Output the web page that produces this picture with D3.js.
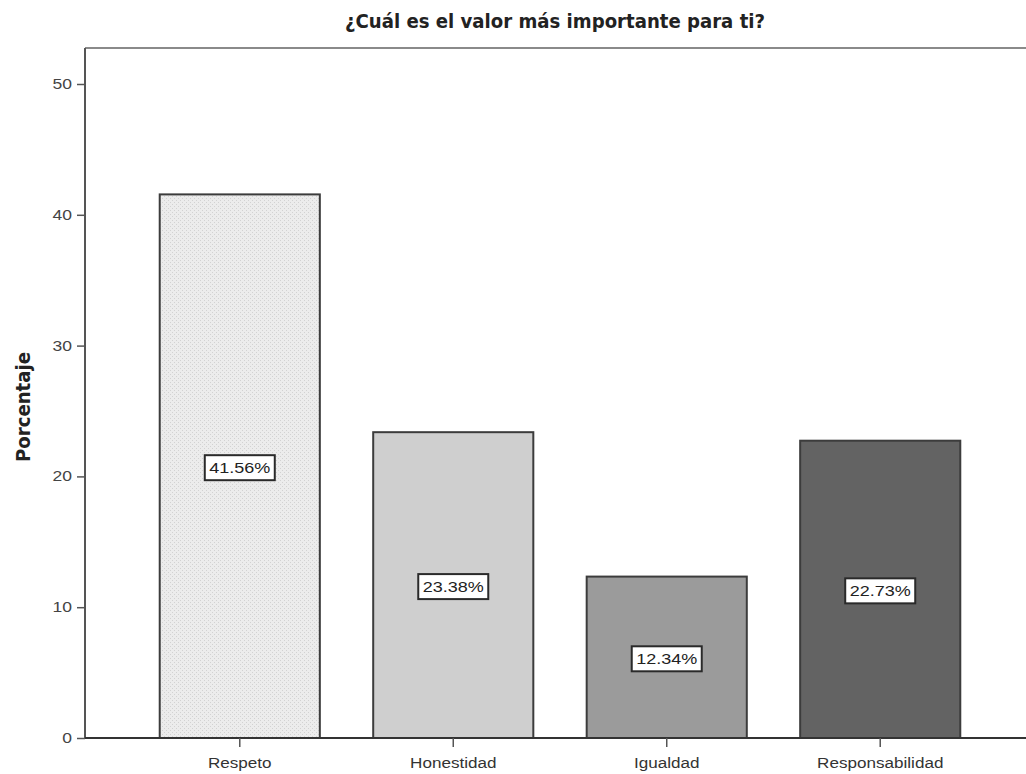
<!DOCTYPE html>
<html>
<head>
<meta charset="utf-8">
<script src="https://cdn.jsdelivr.net/npm/d3@7"></script>
<style>
  body { margin: 0; background: #fff; }
  svg { display: block; }
</style>
</head>
<body>
<svg width="1026" height="774"></svg>
<script>
// datos del gráfico
const categorias = ["Respeto", "Honestidad", "Igualdad", "Responsabilidad"];
const porcentajes = [41.56, 23.38, 12.34, 22.73];
const etiquetas = ["41.56%", "23.38%", "12.34%", "22.73%"];
const yTicks = [0, 10, 20, 30, 40, 50];
const rellenos = ["url(#puntos)", "#cfcfcf", "#9b9b9b", "#636363"];

const svg = d3.select("svg");
const margenIzq = 85, base = 738, techo = 48;

// ensancha un texto (la fuente original es más ancha que Arial)
function ensanchar(sel, factor) {
    sel.each(function () {
        const w = this.getComputedTextLength();
        d3.select(this).attr("textLength", w * factor).attr("lengthAdjust", "spacingAndGlyphs");
    });
}

// patrón punteado de la primera barra
const pat = svg.append("defs").append("pattern")
    .attr("id", "puntos").attr("width", 4).attr("height", 4)
    .attr("patternUnits", "userSpaceOnUse");
pat.append("rect").attr("width", 4).attr("height", 4).attr("fill", "#ececec");
pat.append("rect").attr("x", 0).attr("y", 0).attr("width", 1).attr("height", 1).attr("fill", "#d2d2d2");
pat.append("rect").attr("x", 2).attr("y", 2).attr("width", 1).attr("height", 1).attr("fill", "#d2d2d2");

const x = d3.scaleBand().domain(categorias).range([margenIzq, 1035])
    .paddingInner(0.25).paddingOuter(0.35);
const y = d3.scaleLinear().domain([0, 50]).range([base, 84]);

// marco superior
svg.append("line").attr("x1", margenIzq).attr("x2", 1026).attr("y1", techo).attr("y2", techo)
    .attr("stroke", "#8a8a8a").attr("stroke-width", 2);

// título
svg.append("text").attr("x", 555).attr("y", 28).attr("text-anchor", "middle")
    .attr("textLength", 420).attr("lengthAdjust", "spacingAndGlyphs")
    .style("font-family", "'DejaVu Sans Condensed', 'Liberation Sans Narrow', sans-serif")
    .style("font-size", "20px").style("font-weight", "bold").attr("fill", "#222")
    .text("¿Cuál es el valor más importante para ti?");

// barras
svg.selectAll(".bar").data(porcentajes).enter().append("rect")
    .attr("class", "bar")
    .attr("x", (d, i) => x(categorias[i]))
    .attr("y", d => y(d))
    .attr("width", x.bandwidth())
    .attr("height", d => base - y(d))
    .attr("fill", (d, i) => rellenos[i])
    .attr("stroke", "#3c3c3c").attr("stroke-width", 2);

// etiquetas con caja
const lab = svg.selectAll(".lab").data(porcentajes).enter().append("g")
    .attr("transform", (d, i) => `translate(${x(categorias[i]) + x.bandwidth() / 2},${y(d / 2) + 1})`);
lab.append("rect").attr("x", -35).attr("y", -12).attr("width", 70).attr("height", 25)
    .attr("fill", "#fff").attr("stroke", "#2a2a2a").attr("stroke-width", 2);
lab.append("text").attr("text-anchor", "middle").attr("dy", "0.36em")
    .style("font-family", "'Liberation Sans', Arial, sans-serif").style("font-size", "15px")
    .attr("fill", "#222").text((d, i) => etiquetas[i])
    .call(ensanchar, 1.2);

// eje y
const ay = svg.append("g").attr("transform", `translate(${margenIzq},0)`)
    .call(d3.axisLeft(y).tickValues(yTicks).tickSize(8).tickPadding(5));
ay.select(".domain").attr("stroke", "#555").attr("stroke-width", 2)
    .attr("d", `M0,${base}V${techo}`);
ay.selectAll(".tick line").attr("stroke", "#555").attr("stroke-width", 1.5);
ay.selectAll("text").style("font-family", "'Liberation Sans', Arial, sans-serif")
    .style("font-size", "14px").attr("fill", "#444")
    .call(ensanchar, 1.25);

// eje x
const ax = svg.append("g").attr("transform", `translate(0,${base})`)
    .call(d3.axisBottom(x).tickSize(9).tickPadding(11));
ax.select(".domain").attr("stroke", "#333").attr("stroke-width", 2)
    .attr("d", `M${margenIzq},0H1026`);
ax.selectAll(".tick line").attr("stroke", "#555").attr("stroke-width", 1.5);
ax.selectAll("text").style("font-family", "'Liberation Sans', Arial, sans-serif")
    .style("font-size", "14px").attr("fill", "#333")
    .call(ensanchar, 1.22);

// título eje y
svg.append("text").attr("transform", "translate(30,407) rotate(-90)")
    .attr("text-anchor", "middle")
    .attr("textLength", 110).attr("lengthAdjust", "spacingAndGlyphs")
    .style("font-family", "'DejaVu Sans Condensed', 'Liberation Sans Narrow', sans-serif")
    .style("font-size", "19px").style("font-weight", "bold").attr("fill", "#222")
    .text("Porcentaje");
</script>
</body>
</html>
